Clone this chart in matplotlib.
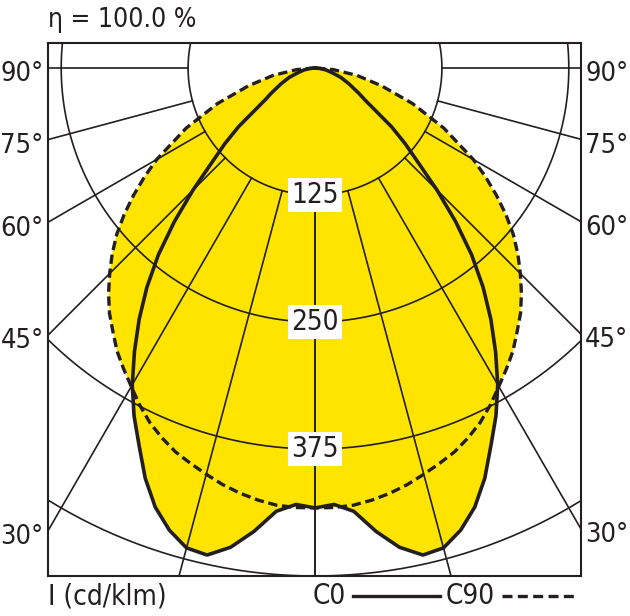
import matplotlib.pyplot as plt
import numpy as np
from matplotlib.lines import Line2D

plt.rcParams['font.family'] = ['DejaVu Sans']
plt.rcParams['font.stretch'] = 'condensed'

# angles from nadir (deg) and intensities (cd/klm), symmetric curves
angles = [0, 2.5, 5, 7.5, 10, 12.5, 15, 17.5, 20, 22.5, 25, 27.5, 30, 32.5, 35,
          37.5, 40, 42.5, 45, 47.5, 50, 52.5, 55, 57.5, 60, 65, 70, 75, 80, 85, 90]
c0 = [433, 430, 438, 460, 479, 491, 489, 477, 460, 437, 410, 386, 360, 331, 302,
      272, 240, 205, 170, 138, 116, 95, 72, 58, 50, 37, 27, 17, 11, 5, 0]
c90 = [433, 433, 432, 429, 425, 420, 414, 408, 402, 394, 385, 374, 362, 351, 340,
       327, 315, 301, 286, 271, 255, 237, 218, 199, 180, 140, 102, 68, 42, 18, 0]

rings = [125, 250, 375, 500]
ring_labels = ['125', '250', '375']
spokes = [0, 15, 30, 45, 60, 75, 90]
side_angles = [90, 75, 60, 45, 30]
side_labels = ['90°', '75°', '60°', '45°', '30°']

yellow = '#ffe400'
dark = '#231f20'


def to_xy(ang, r):
    ang = np.array(ang, dtype=float)
    r = np.array(r, dtype=float)
    a = np.radians(np.concatenate([-ang[::-1], ang[1:]]))
    rr = np.concatenate([r[::-1], r[1:]])
    return rr * np.sin(a), -rr * np.cos(a)


fig = plt.figure(figsize=(6.3, 6.16), dpi=100)
ax = fig.add_axes([48 / 630, 40 / 616, 533 / 630, 533 / 616])
xmin, xmax = -263, 262
ax.set_xlim(xmin, xmax)
ax.set_ylim(-500, 24.6)
ax.set_xticks([])
ax.set_yticks([])
for sp in ax.spines.values():
    sp.set_linewidth(1.5)
    sp.set_color(dark)

x0, y0 = to_xy(angles, c0)
x90, y90 = to_xy(angles, c90)
ax.fill(x0, y0, color=yellow, lw=0, zorder=1)
ax.fill(x90, y90, color=yellow, lw=0, zorder=1)

# grid
t = np.linspace(0, 2 * np.pi, 500)
for r in rings:
    ax.plot(r * np.cos(t), r * np.sin(t), color=dark, lw=1.2, zorder=2)
for a in spokes:
    s, c = np.sin(np.radians(a)), np.cos(np.radians(a))
    for sign in (-1, 1):
        ax.plot([sign * 125 * s, sign * 900 * s], [-125 * c, -900 * c],
                color=dark, lw=1.2, zorder=2)

# curves
ax.plot(x0, y0, color=dark, lw=2.6, zorder=3, solid_joinstyle='round')
ax.plot(x90, y90, color=dark, lw=2.4, ls=(0, (2.8, 1.4)), zorder=3)

for r, lbl in zip(rings, ring_labels):
    ax.text(0, -r, lbl, ha='center', va='center', fontsize=20, color=dark, zorder=4,
            bbox=dict(boxstyle='square,pad=0.12', fc='white', ec='none'))

for a, lbl in zip(side_angles, side_labels):
    y = -abs(xmin) * np.cos(np.radians(a)) / np.sin(np.radians(a))
    ax.annotate(lbl, xy=(xmin, y), xytext=(-3, -4.5), textcoords='offset points',
                ha='right', va='center', fontsize=19.5, color=dark, annotation_clip=False)
    y = -xmax * np.cos(np.radians(a)) / np.sin(np.radians(a))
    ax.annotate(lbl, xy=(xmax, y), xytext=(3, -4.5), textcoords='offset points',
                ha='left', va='center', fontsize=19.5, color=dark, annotation_clip=False)

fig.text(48 / 630, 1 - 27 / 616, 'η = 100.0 %', fontsize=19, color=dark, va='baseline')
ly = 1 - 596 / 616
fig.text(48 / 630, ly, 'I (cd/klm)', fontsize=20, color=dark, va='center')
fig.text(313 / 630, ly, 'C0', fontsize=20, color=dark, va='center')
fig.add_artist(Line2D([353 / 630, 440 / 630], [ly, ly], transform=fig.transFigure,
                      color=dark, lw=2.4))
fig.text(446 / 630, ly, 'C90', fontsize=20, color=dark, va='center')
fig.add_artist(Line2D([502 / 630, 576 / 630], [ly, ly], transform=fig.transFigure,
                      color=dark, lw=2.4, ls=(0, (3.0, 1.6))))

plt.savefig('out.png', dpi=100)
